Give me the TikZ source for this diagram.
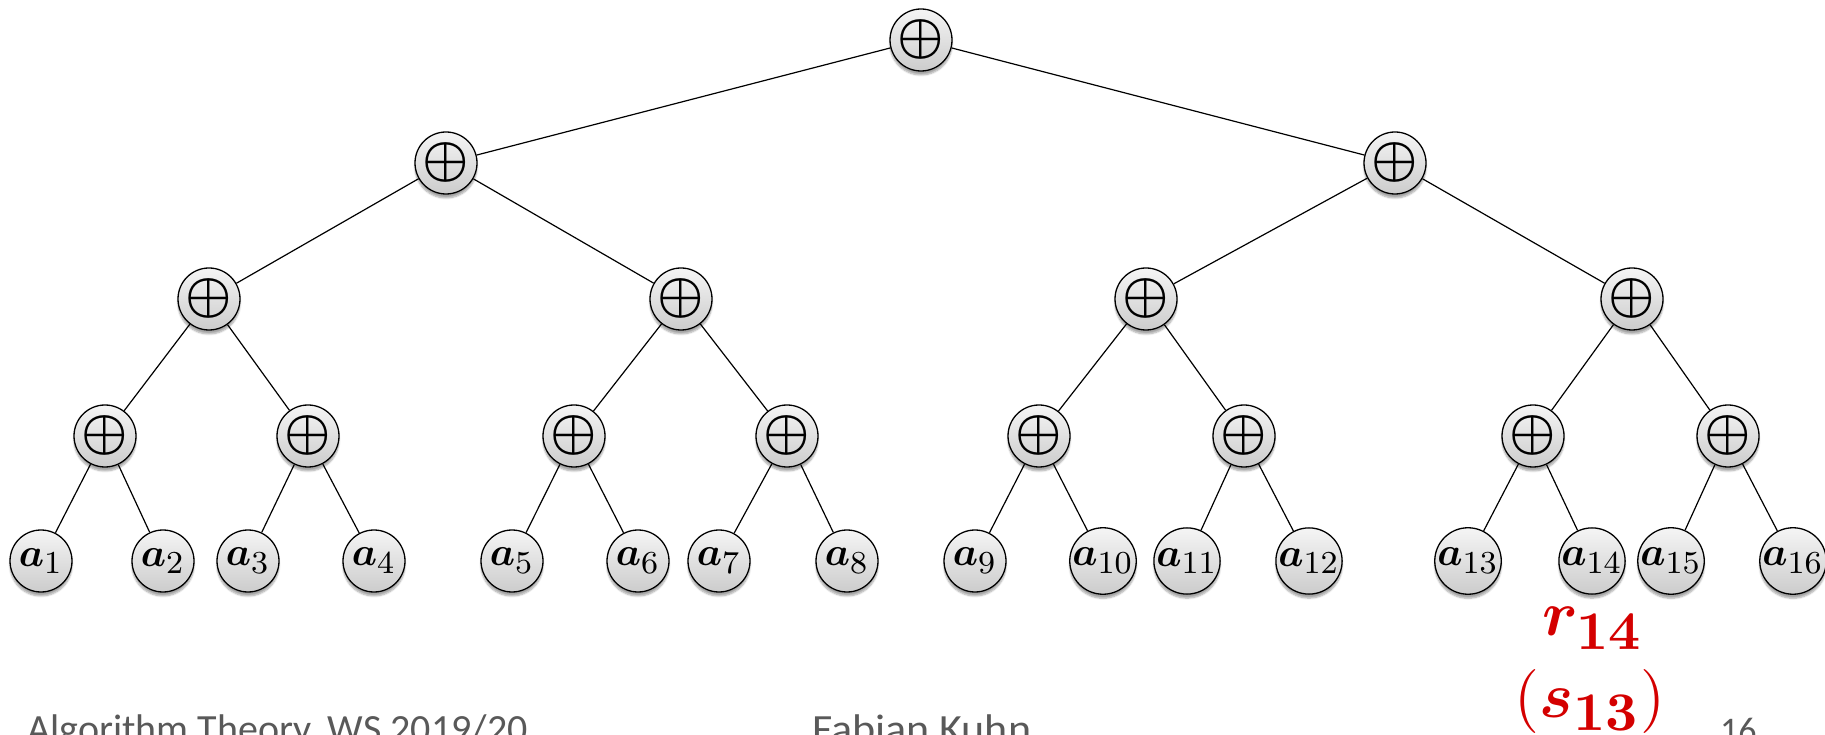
\documentclass[tikz,border=0pt]{standalone}
\usepackage{amsmath,bm,graphicx}
\usepackage{fontspec}
\newfontfamily\footfont{Carlito}
\usetikzlibrary{shadows.blur}
\definecolor{hlred}{HTML}{D40000}
\definecolor{footgray}{HTML}{595959}
\newcommand{\leaflab}[1]{\scalebox{4}{$\bm{a}_{\mbox{\fontsize{8}{8}\selectfont #1}}$}}
\newcommand{\oplab}{\scalebox{5.2}{$\bm{\oplus}$}}
\newcommand{\redsub}[1]{\mbox{\bfseries\fontsize{8.5}{9}\selectfont #1}}
\tikzset{
  nd/.style={circle, draw=black, line width=1.3pt, minimum size=62pt, inner sep=0pt,
    top color=gray!8, bottom color=gray!40,
    blur shadow={shadow xshift=0pt, shadow yshift=-4pt, shadow blur steps=6, shadow opacity=35}},
  ed/.style={line width=1.2pt, black},
  foot/.style={font=\footfont\fontsize{40}{42}\selectfont, text=footgray, inner sep=0pt, anchor=base west},
  red/.style={text=hlred, inner sep=0pt}
}
\begin{document}
\begin{tikzpicture}[x=1pt,y=1pt]
\useasboundingbox (0,0) rectangle (1825,734);
% internal nodes
\node[nd] (r) at (921,694) {\oplab};
\node[nd] (l1a) at (446,571) {\oplab};
\node[nd] (l1b) at (1395,571) {\oplab};
\foreach \x [count=\i] in {209,681,1146,1632} \node[nd] (l2-\i) at (\x,435) {\oplab};
\foreach \x [count=\i] in {105,308,574,787,1039,1244,1533,1728} \node[nd] (l3-\i) at (\x,298) {\oplab};
\foreach \x [count=\i] in {41,163,248,374,512,638,719,847,975,1103,1187,1309,1468,1592,1671,1793}
  \node[nd] (a\i) at (\x,173) {\leaflab{\i}};
% edges
\draw[ed] (r) -- (l1a); \draw[ed] (r) -- (l1b);
\draw[ed] (l1a) -- (l2-1); \draw[ed] (l1a) -- (l2-2);
\draw[ed] (l1b) -- (l2-3); \draw[ed] (l1b) -- (l2-4);
\foreach \i/\j in {1/1,1/2,2/3,2/4,3/5,3/6,4/7,4/8} \draw[ed] (l2-\i) -- (l3-\j);
\foreach \i/\j in {1/1,1/2,2/3,2/4,3/5,3/6,4/7,4/8,5/9,5/10,6/11,6/12,7/13,7/14,8/15,8/16} \draw[ed] (l3-\i) -- (a\j);
% red labels
\node[red] (rl) at (1593,106) {\scalebox{6.4}{$\bm{r}_{\redsub{14}}$}};
\node[red] (sl) at (1590,33) {\scalebox{6.4}{$\mathbf{(}\bm{s}_{\redsub{13}}\mathbf{)}$}};
% footer
\node[foot] (f1) at (27,-8) {Algorithm Theory, WS 2019/20};
\node[foot, xscale=1.1] (f2) at (812,-8) {Fabian Kuhn};
\node[foot, font=\footfont\fontsize{36}{40}\selectfont] (f3) at (1720,-8) {16};
\end{tikzpicture}
\end{document}
